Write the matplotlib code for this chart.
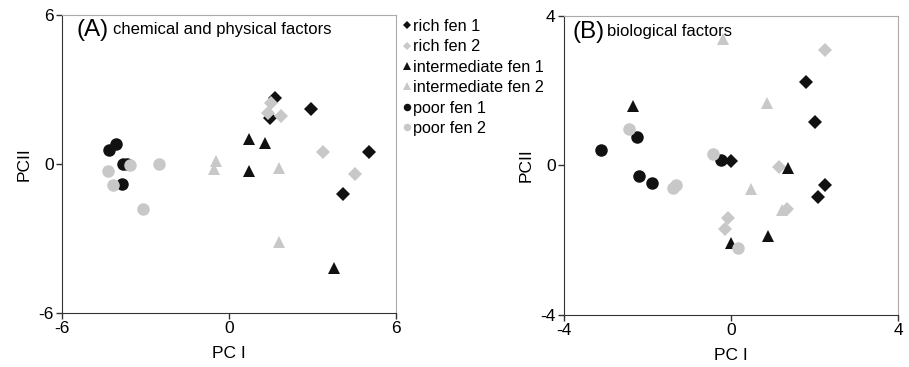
import numpy as np
import matplotlib.pyplot as plt

plt.rcParams['font.family'] = ['Liberation Sans', 'DejaVu Sans']

# panel A: chemical and physical factors
a_rich1_x = [1.67, 1.48, 2.95, 5.04, 4.09]
a_rich1_y = [2.66, 1.86, 2.22, 0.47, -1.22]
a_rich2_x = [1.52, 1.40, 1.88, 3.37, 4.54]
a_rich2_y = [2.46, 2.06, 1.95, 0.47, -0.39]
a_int1_x = [0.72, 1.29, 0.72, 3.79]
a_int1_y = [1.02, 0.85, -0.26, -4.20]
a_int2_x = [-0.45, -0.55, 1.79, 1.79]
a_int2_y = [0.11, -0.19, -0.16, -3.12]
a_poor1_x = [-4.06, -4.30, -3.80, -3.66, -3.86]
a_poor1_y = [0.82, 0.55, 0.0, 0.0, -0.79]
a_poor2_x = [-4.34, -4.16, -3.56, -2.51, -3.08]
a_poor2_y = [-0.27, -0.83, -0.03, 0.0, -1.80]

# panel B: biological factors
b_rich1_x = [0.01, 1.79, 2.01, 2.24, 2.08]
b_rich1_y = [0.11, 2.24, 1.17, -0.52, -0.84]
b_rich2_x = [2.26, 1.15, 1.34, -0.07, -0.15]
b_rich2_y = [3.08, -0.05, -1.16, -1.41, -1.70]
b_int1_x = [-2.35, 1.37, 0.89, 0.0]
b_int1_y = [1.59, -0.07, -1.89, -2.07]
b_int2_x = [-0.20, 0.85, 0.47, 1.21]
b_int2_y = [3.37, 1.68, -0.63, -1.20]
b_poor1_x = [-3.12, -2.25, -2.20, -1.89, -0.23]
b_poor1_y = [0.42, 0.75, -0.29, -0.47, 0.13]
b_poor2_x = [-2.44, -0.43, -1.31, -1.39, 0.17]
b_poor2_y = [0.98, 0.31, -0.52, -0.60, -2.20]

labels = ['rich fen 1', 'rich fen 2', 'intermediate fen 1',
          'intermediate fen 2', 'poor fen 1', 'poor fen 2']
black = '#111111'
grey = '#c8c8c8'
styles = [('D', black, 7), ('D', grey, 7), ('^', black, 9),
          ('^', grey, 9), ('o', black, 9), ('o', grey, 9)]

fig = plt.figure(figsize=(9.09, 3.67), dpi=100)
axA = fig.add_axes([0.0682, 0.147, 0.3674, 0.812])
axB = fig.add_axes([0.6205, 0.142, 0.3674, 0.815])

dataA = [(a_rich1_x, a_rich1_y), (a_rich2_x, a_rich2_y), (a_int1_x, a_int1_y),
         (a_int2_x, a_int2_y), (a_poor1_x, a_poor1_y), (a_poor2_x, a_poor2_y)]
dataB = [(b_rich1_x, b_rich1_y), (b_rich2_x, b_rich2_y), (b_int1_x, b_int1_y),
         (b_int2_x, b_int2_y), (b_poor1_x, b_poor1_y), (b_poor2_x, b_poor2_y)]

for (x, y), (m, c, s), lab in zip(dataA, styles, labels):
    axA.plot(x, y, linestyle='none', marker=m, color=c, markersize=s,
             markeredgewidth=0, label=lab)
for (x, y), (m, c, s) in zip(dataB, styles):
    axB.plot(x, y, linestyle='none', marker=m, color=c, markersize=s,
             markeredgewidth=0)

for ax, lim in [(axA, 6), (axB, 4)]:
    ax.set_xlim(-lim, lim)
    ax.set_ylim(-lim, lim)
    ax.set_xticks([-lim, 0, lim])
    ax.set_yticks([-lim, 0, lim])
    ax.set_xticklabels([str(-lim), '0', str(lim)])
    ax.set_yticklabels([str(-lim), '0', str(lim)])
    ax.tick_params(direction='out', length=4, width=1, labelsize=12.5,
                   color='#333333', pad=2)
    for side in ['top', 'right']:
        ax.spines[side].set_color('#aaaaaa')
    for side in ['left', 'bottom']:
        ax.spines[side].set_color('#333333')
    ax.set_xlabel('PC I', fontsize=12.5, labelpad=7)
    ax.set_ylabel('PCII', fontsize=12.5, labelpad=5)

axA.text(0.042, 0.95, '(A)', transform=axA.transAxes, fontsize=17.5, va='center')
axA.text(0.152, 0.95, 'chemical and physical factors', transform=axA.transAxes,
         fontsize=12, va='center')
axB.text(0.024, 0.946, '(B)', transform=axB.transAxes, fontsize=17.5, va='center')
axB.text(0.129, 0.946, 'biological factors', transform=axB.transAxes,
         fontsize=12, va='center')

leg_handles = []
for (m, c, s), lab in zip(styles, labels):
    h, = axA.plot([], [], linestyle='none', marker=m, color=c,
                  markersize=s * 0.6, markeredgewidth=0, label=lab)
    leg_handles.append(h)
fig.legend(handles=leg_handles, loc='upper left', bbox_to_anchor=(0.4305, 0.979),
           frameon=False, fontsize=11.7, handlelength=0.5, handletextpad=0.15,
           labelspacing=0.33, borderpad=0.2)

fig.savefig('out.png', dpi=100)
